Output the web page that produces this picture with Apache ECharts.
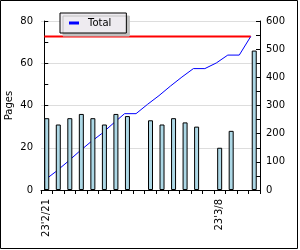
<!DOCTYPE html>
<html>
<head>
<meta charset="utf-8">
<script src="https://cdn.jsdelivr.net/npm/echarts@6.0.0/dist/echarts.min.js"></script>
<style>
html,body{margin:0;padding:0;background:#fff;}
#main{width:300px;height:250px;}
</style>
</head>
<body>
<div id="main"></div>
<script>
var days = ["23'2/21","23'2/22","23'2/23","23'2/24","23'2/25","23'2/26","23'2/27","23'2/28",
    "23'3/1","23'3/2","23'3/3","23'3/4","23'3/5","23'3/6","23'3/7","23'3/8","23'3/9","23'3/10","23'3/11"];
var pages = [34, 31, 34, 36, 34, 31, 36, 35, null, 33, 31, 34, 32, 30, null, 20, 28, null, 66];
var total = [34, 65, 99, 135, 169, 200, 236, 271, 271, 304, 335, 369, 401, 431, 431, 451, 479, 479, 545];
var totalPages = 545;

var myChart = echarts.init(document.getElementById("main"));
var font = 'DejaVu Sans';

// line points sit on a slightly narrower x range than the bars
var totalData = total.map(function (v, i) { return [i, v]; });
var limitData = [[0, totalPages], [days.length - 1, totalPages]];

var option = {
    backgroundColor: '#fff',
    animation: false,
    textStyle: { fontFamily: font },
    grid: {
        left: 41,
        right: 40,
        top: 21,
        bottom: 60,
        outerBoundsMode: 'none'
    },
    legend: {
        left: 60,
        top: 13,
        padding: [5, 15, 5, 9],
        backgroundColor: '#eeebf0',
        borderColor: '#000',
        borderWidth: 1,
        borderRadius: 0,
        shadowColor: '#c0c0c0',
        shadowOffsetX: 3,
        shadowOffsetY: 3,
        shadowBlur: 0,
        itemWidth: 10,
        itemHeight: 3,
        data: [{ name: 'Total', icon: 'rect' }],
        textStyle: { color: '#000', fontSize: 10, fontFamily: font, padding: [0, 0, 0, 4] }
    },
    xAxis: [{
        type: 'category',
        data: days,
        boundaryGap: true,
        axisLine: { lineStyle: { color: '#000', width: 1 } },
        axisTick: { show: true, interval: 0, length: 4, inside: false, lineStyle: { color: '#000' } },
        axisLabel: { interval: 14, rotate: 90, margin: 9, color: '#000', fontSize: 10, fontFamily: font },
        splitLine: { show: false }
    }, {
        type: 'value',
        show: false,
        min: -0.286,
        max: 18.808
    }],
    yAxis: [{
        type: 'value',
        min: 0,
        max: 80,
        interval: 20,
        name: 'Pages',
        nameLocation: 'middle',
        nameRotate: 90,
        nameGap: 27,
        nameMoveOverlap: false,
        nameTextStyle: { color: '#000', fontSize: 10, fontFamily: font },
        axisLine: { show: true, lineStyle: { color: '#000' } },
        axisTick: { show: true, inside: true, length: 4, lineStyle: { color: '#000' } },
        minorTick: { show: true, splitNumber: 2, length: 4, lineStyle: { color: '#000' } },
        axisLabel: { margin: 8, color: '#000', fontSize: 10, fontFamily: font },
        splitLine: { show: true, lineStyle: { color: '#dddddd', width: 1 } }
    }, {
        type: 'value',
        position: 'right',
        min: 0,
        max: 600,
        interval: 100,
        axisLine: { show: true, lineStyle: { color: '#000' } },
        axisTick: { show: true, inside: true, length: 4, lineStyle: { color: '#000' } },
        minorTick: { show: true, splitNumber: 2, length: 4, lineStyle: { color: '#000' } },
        axisLabel: { margin: 6, color: '#000', fontSize: 10, fontFamily: font },
        splitLine: { show: false }
    }],
    series: [{
        name: 'Limit',
        type: 'line',
        xAxisIndex: 1,
        yAxisIndex: 1,
        data: limitData,
        symbol: 'none',
        lineStyle: { color: '#ff0000', width: 2 },
        z: 2
    }, {
        name: 'Total',
        type: 'line',
        xAxisIndex: 1,
        yAxisIndex: 1,
        data: totalData,
        symbol: 'none',
        itemStyle: { color: '#0000ff' },
        lineStyle: { color: '#0000ff', width: 1 },
        z: 2
    }, {
        name: 'Pages',
        type: 'bar',
        xAxisIndex: 0,
        yAxisIndex: 0,
        data: pages,
        barWidth: 5,
        itemStyle: { color: '#add8e6', borderColor: '#000', borderWidth: 1 },
        z: 3
    }],
    graphic: [{
        type: 'rect',
        shape: { x: 0.5, y: 0.5, width: 297, height: 248 },
        style: { fill: 'none', stroke: '#000', lineWidth: 1 },
        silent: true
    }]
};
myChart.setOption(option);
</script>
</body>
</html>
